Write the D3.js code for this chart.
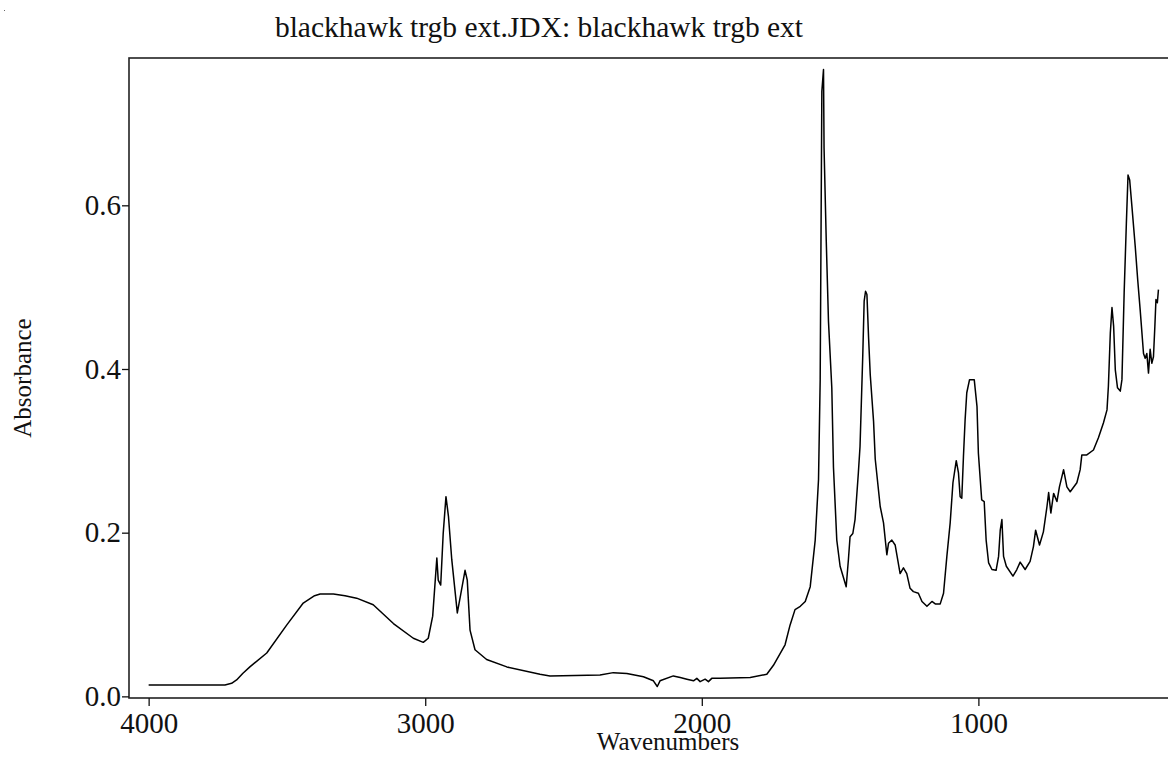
<!DOCTYPE html>
<html>
<head>
<meta charset="utf-8">
<script src="https://cdn.jsdelivr.net/npm/d3@7"></script>
<style>
  body { margin: 0; background: #fff; }
  svg { display: block; font-family: "Liberation Serif", "Times New Roman", serif; }
</style>
</head>
<body>
<div id="chart"></div>
<script>
// spectrum (wavenumber, absorbance)
var wavenumbers = [4000, 3724, 3700, 3682, 3660, 3634, 3573, 3501, 3441, 3400, 3380, 3332, 3290, 3248, 3188, 3115, 3043, 3007, 2989, 2973,
  2958, 2953, 2944, 2935, 2925, 2916, 2904, 2884, 2872, 2856, 2848, 2838, 2820, 2778, 2705, 2585, 2549, 2368, 2320, 2271,
  2211, 2175, 2161, 2151, 2103, 2078, 2054, 2030, 2018, 2006, 1988, 1976, 1964, 1934, 1825, 1765, 1741, 1699, 1681, 1663,
  1644, 1626, 1608, 1590, 1578, 1572, 1566, 1560, 1558, 1550, 1542, 1530, 1524, 1512, 1500, 1478, 1470, 1464, 1454, 1446,
  1434, 1428, 1418, 1413, 1408, 1403, 1397, 1391, 1379, 1373, 1355, 1343, 1331, 1325, 1313, 1301, 1283, 1271, 1259, 1247,
  1235, 1217, 1204, 1186, 1168, 1156, 1138, 1126, 1114, 1102, 1092, 1080, 1072, 1066, 1060, 1054, 1048, 1042, 1032, 1015,
  1005, 1000, 988, 979, 972, 963, 951, 936, 927, 921, 915, 909, 899, 875, 861, 849, 831, 813, 801, 793,
  779, 765, 752, 746, 738, 728, 716, 707, 692, 680, 668, 644, 632, 626, 608, 584, 566, 548, 535, 530,
  523, 517, 511, 505, 497, 487, 481, 473, 465, 459, 453, 445, 433, 424, 415, 403, 397, 391, 385, 379,
  373, 367, 362, 358, 353, 349];
var absorbance = [0.014, 0.014, 0.016, 0.020, 0.028, 0.036, 0.053, 0.087, 0.114, 0.123, 0.125, 0.125, 0.123, 0.120, 0.112, 0.089, 0.071, 0.066, 0.071, 0.098,
  0.169, 0.142, 0.136, 0.199, 0.244, 0.220, 0.167, 0.102, 0.124, 0.154, 0.142, 0.081, 0.057, 0.045, 0.036, 0.027, 0.025, 0.026, 0.029, 0.028,
  0.024, 0.019, 0.012, 0.019, 0.025, 0.023, 0.021, 0.019, 0.022, 0.018, 0.021, 0.018, 0.022, 0.022, 0.023, 0.027, 0.038, 0.063, 0.087, 0.106,
  0.110, 0.116, 0.134, 0.191, 0.265, 0.387, 0.739, 0.766, 0.670, 0.556, 0.458, 0.377, 0.280, 0.191, 0.159, 0.134, 0.167, 0.195, 0.199, 0.216,
  0.273, 0.305, 0.417, 0.483, 0.495, 0.491, 0.438, 0.393, 0.336, 0.290, 0.232, 0.212, 0.173, 0.187, 0.191, 0.185, 0.150, 0.157, 0.150, 0.132,
  0.128, 0.126, 0.116, 0.110, 0.116, 0.113, 0.113, 0.126, 0.171, 0.212, 0.261, 0.288, 0.273, 0.244, 0.242, 0.293, 0.338, 0.371, 0.387, 0.387,
  0.354, 0.297, 0.240, 0.238, 0.191, 0.163, 0.155, 0.154, 0.171, 0.203, 0.216, 0.171, 0.159, 0.147, 0.155, 0.164, 0.155, 0.165, 0.183, 0.203,
  0.185, 0.201, 0.232, 0.249, 0.224, 0.248, 0.238, 0.256, 0.277, 0.256, 0.250, 0.261, 0.277, 0.295, 0.295, 0.301, 0.316, 0.334, 0.350, 0.379,
  0.444, 0.475, 0.452, 0.399, 0.377, 0.373, 0.387, 0.493, 0.578, 0.637, 0.631, 0.599, 0.550, 0.509, 0.472, 0.419, 0.413, 0.419, 0.395, 0.424,
  0.407, 0.415, 0.452, 0.485, 0.481, 0.497];

var xTicks = [4000, 3000, 2000, 1000];
var yTicks = [0.0, 0.2, 0.4, 0.6];
var title = "blackhawk trgb ext.JDX: blackhawk trgb ext";

var W = 1168, H = 758;
var margin = {top: 58, left: 129, bottom: 60};
var plotRight = 1172;

var svg = d3.select("#chart").append("svg")
  .attr("width", W)
  .attr("height", H);

var x = d3.scaleLinear().domain([4071, 300]).range([margin.left, plotRight]);
var y = d3.scaleLinear().domain([-0.002, 0.78]).range([H - margin.bottom, margin.top]);

var data = wavenumbers.map(function(d, i) { return [d, absorbance[i]]; });

// frame
svg.append("rect")
  .attr("x", margin.left)
  .attr("y", margin.top)
  .attr("width", plotRight - margin.left)
  .attr("height", (H - margin.bottom) - margin.top)
  .attr("fill", "none")
  .attr("stroke", "#222")
  .attr("stroke-width", 1.6);

// X axis
var gx = svg.append("g")
  .attr("transform", "translate(0," + (H - margin.bottom) + ")")
  .call(d3.axisBottom(x).tickValues(xTicks).tickSize(8).tickSizeOuter(0).tickPadding(6).tickFormat(d3.format("d")));
gx.select(".domain").remove();

// Y axis
var gy = svg.append("g")
  .attr("transform", "translate(" + margin.left + ",0)")
  .call(d3.axisLeft(y).tickValues(yTicks).tickSize(7).tickSizeOuter(0).tickPadding(1).tickFormat(d3.format(".1f")));
gy.select(".domain").remove();

svg.selectAll(".tick line").attr("stroke", "#111").attr("stroke-width", 1.3);
svg.selectAll(".tick text")
  .attr("fill", "#111")
  .style("font-family", "Liberation Serif")
  .style("font-size", "29px");

// spectrum
svg.append("path")
  .datum(data)
  .attr("fill", "none")
  .attr("stroke", "#000")
  .attr("stroke-width", 1.5)
  .attr("stroke-linejoin", "round")
  .attr("d", d3.line().x(function(d) { return x(d[0]); }).y(function(d) { return y(d[1]); }));

// labels
svg.append("text")
  .attr("x", 539)
  .attr("y", 37)
  .attr("text-anchor", "middle")
  .style("font-size", "29.5px")
  .attr("fill", "#111")
  .text(title);

svg.append("text")
  .attr("x", 668)
  .attr("y", 750)
  .attr("text-anchor", "middle")
  .style("font-size", "25px")
  .attr("fill", "#111")
  .text("Wavenumbers");

svg.append("text")
  .attr("transform", "translate(31,378) rotate(-90)")
  .attr("text-anchor", "middle")
  .style("font-size", "25px")
  .attr("fill", "#111")
  .text("Absorbance");

// stray dot in the corner of the original
svg.append("rect").attr("x", 4).attr("y", 10).attr("width", 1).attr("height", 1).attr("fill", "#666");
</script>
</body>
</html>
